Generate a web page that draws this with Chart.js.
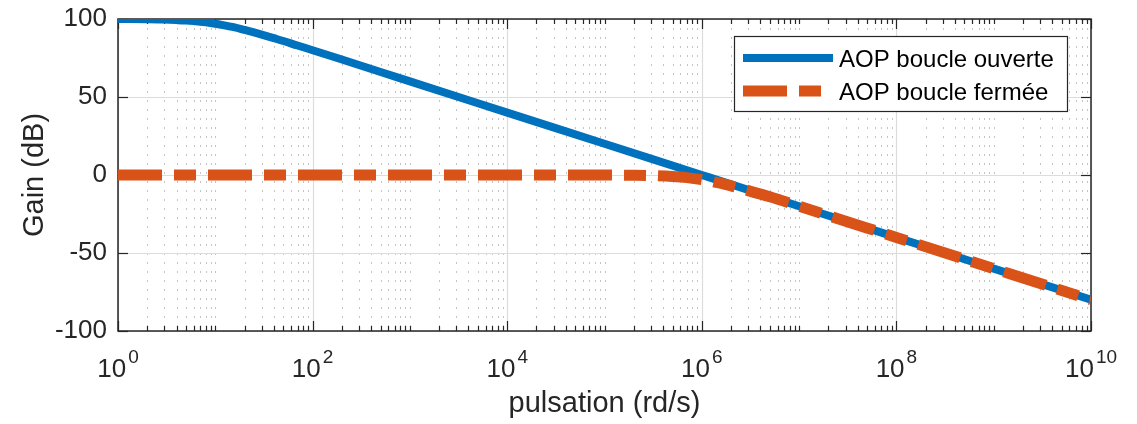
<!DOCTYPE html>
<html>
<head>
<meta charset="utf-8">
<script src="https://cdn.jsdelivr.net/npm/chart.js@4/dist/chart.umd.min.js"></script>
<style>
  html, body { margin: 0; background: #fff; }
</style>
</head>
<body>
<canvas id="bode" width="1137" height="424"></canvas>
<script>
// DATA
const pulsationOpen = [1, 2, 3, 4, 5, 7, 8, 10, 12, 15, 20, 25, 30, 40, 50, 70, 100, 200, 500, 1e3, 1e4, 1e5, 1e6, 1e7, 1e8, 1e9, 1e10];
const gainOpen      = [100, 99.8, 99.6, 99.3, 99.0, 98.3, 97.9, 97.0, 96.1, 94.9, 93.0, 91.4, 90.0, 87.7, 85.9, 83.0, 80.0, 74.0, 66.0, 60, 40, 20, 0, -20, -40, -60, -80];

const pulsationClosed = [1, 10, 100, 1e3, 1e4, 1e5, 2e5, 3e5, 5e5, 7e5, 1e6, 1.5e6, 2e6, 3e6, 5e6, 1e7, 1e8, 1e9, 1e10];
const gainClosed      = [0, 0, 0, 0, 0, -0.05, -0.2, -0.4, -1.0, -1.7, -3.0, -5.1, -7.0, -10.0, -14.0, -20, -40, -60, -80];

const xTickPowers = [0, 2, 4, 6, 8, 10];
const yTicks = [-100, -50, 0, 50, 100];

const FONT = '"Liberation Sans", Arial, Helvetica, sans-serif';
const AXIS = '#262626';

function toPoints(xs, ys) {
  return xs.map((v, i) => ({ x: v, y: ys[i] }));
}

function isLabelled(v) {
  const p = Math.log10(v);
  return Math.abs(p - Math.round(p)) < 1e-9 && xTickPowers.includes(Math.round(p));
}

// every k*10^n between the axis limits, for minor grid and ticks
function decadeValues(minPow, maxPow) {
  const out = [];
  for (let p = minPow; p < maxPow; p++)
    for (let k = 1; k < 10; k++) out.push(k * Math.pow(10, p));
  out.push(Math.pow(10, maxPow));
  return out;
}

function seg(ctx, x1, y1, x2, y2) {
  ctx.beginPath();
  ctx.moveTo(x1, y1);
  ctx.lineTo(x2, y2);
  ctx.stroke();
}

// MATLAB-like grid, box and inward ticks
const matlabAxes = {
  id: 'matlabAxes',
  beforeDatasetsDraw(chart) {
    const { ctx, chartArea: a, scales: { x, y } } = chart;
    const xVals = decadeValues(xTickPowers[0], xTickPowers[xTickPowers.length - 1]);
    ctx.save();

    // minor grid, dotted
    ctx.lineWidth = 1;
    ctx.strokeStyle = '#c4c4c4';
    ctx.setLineDash([2, 7]);
    xVals.forEach(v => {
      if (isLabelled(v)) return;
      const px = Math.round(x.getPixelForValue(v)) + 0.5;
      seg(ctx, px, a.top, px, a.bottom);
    });

    // major grid
    ctx.setLineDash([]);
    ctx.strokeStyle = '#dcdcdc';
    ctx.lineWidth = 1.2;
    xTickPowers.forEach(p => {
      const px = Math.round(x.getPixelForValue(Math.pow(10, p))) + 0.5;
      seg(ctx, px, a.top, px, a.bottom);
    });
    yTicks.forEach(v => {
      const py = Math.round(y.getPixelForValue(v)) + 0.5;
      seg(ctx, a.left, py, a.right, py);
    });

    // box
    ctx.strokeStyle = AXIS;
    ctx.lineWidth = 1.5;
    ctx.strokeRect(a.left, a.top, a.right - a.left, a.bottom - a.top);

    // ticks pointing inward
    ctx.lineWidth = 1.2;
    xVals.forEach(v => {
      const len = isLabelled(v) ? 10 : 5;
      const px = Math.round(x.getPixelForValue(v)) + 0.5;
      seg(ctx, px, a.bottom, px, a.bottom - len);
      seg(ctx, px, a.top, px, a.top + len);
    });
    yTicks.forEach(v => {
      const py = Math.round(y.getPixelForValue(v)) + 0.5;
      seg(ctx, a.left, py, a.left + 10, py);
      seg(ctx, a.right, py, a.right - 10, py);
    });
    ctx.restore();
  },
  afterDraw(chart) {
    const { ctx, scales: { x } } = chart;
    ctx.save();

    // x tick labels 10^n
    ctx.fillStyle = AXIS;
    ctx.textBaseline = 'alphabetic';
    ctx.textAlign = 'left';
    xTickPowers.forEach(p => {
      const px = x.getPixelForValue(Math.pow(10, p));
      ctx.font = '26px ' + FONT;
      const wb = ctx.measureText('10').width;
      ctx.font = '19px ' + FONT;
      const we = ctx.measureText(String(p)).width;
      const left = px - (wb + 2 + we) / 2;
      ctx.font = '26px ' + FONT;
      ctx.fillText('10', left, 377);
      ctx.font = '19px ' + FONT;
      ctx.fillText(String(p), left + wb + 2, 363);
    });

    // legend, top right inside the axes
    const box = { l: 734, t: 36, r: 1067, b: 111 };
    ctx.fillStyle = '#fff';
    ctx.fillRect(box.l, box.t, box.r - box.l, box.b - box.t);
    ctx.strokeStyle = AXIS;
    ctx.lineWidth = 1.2;
    ctx.strokeRect(box.l + 0.5, box.t + 0.5, box.r - box.l, box.b - box.t);

    const rows = [58, 91];
    chart.data.datasets.forEach((ds, i) => {
      const yy = rows[i];
      ctx.strokeStyle = ds.borderColor;
      ctx.lineWidth = ds.borderWidth;
      ctx.lineCap = 'butt';
      ctx.setLineDash(ds.borderDash || []);
      seg(ctx, 743, yy, 833, yy);
      ctx.setLineDash([]);
      ctx.fillStyle = '#000';
      ctx.font = '24px ' + FONT;
      ctx.fillText(ds.label, 839, yy + 8.5);
    });
    ctx.restore();
  }
};

new Chart(document.getElementById('bode'), {
  type: 'line',
  data: {
    datasets: [
      {
        label: 'AOP boucle ouverte',
        data: toPoints(pulsationOpen, gainOpen),
        borderColor: '#0072BD',
        borderWidth: 8,
        borderCapStyle: 'butt',
        pointRadius: 0,
        cubicInterpolationMode: 'monotone',
        order: 2
      },
      {
        label: 'AOP boucle fermée',
        data: toPoints(pulsationClosed, gainClosed),
        borderColor: '#D95319',
        borderWidth: 11,
        borderDash: [44, 12, 22, 12],
        borderCapStyle: 'butt',
        pointRadius: 0,
        cubicInterpolationMode: 'monotone',
        order: 1
      }
    ]
  },
  options: {
    responsive: false,
    animation: false,
    layout: { padding: { top: 19, right: 46, left: 0, bottom: 0 } },
    plugins: {
      legend: { display: false },
      tooltip: { enabled: false }
    },
    scales: {
      x: {
        type: 'logarithmic',
        min: 1,
        max: 1e10,
        grid: { display: false },
        border: { display: false },
        ticks: { display: false },
        title: {
          display: true,
          text: 'pulsation (rd/s)',
          color: AXIS,
          font: { family: FONT, size: 29 },
          padding: { top: 0, bottom: 3 }
        },
        afterFit: s => { s.height = 93; s.paddingLeft = 0; s.paddingRight = 0; }
      },
      y: {
        min: -100,
        max: 100,
        afterBuildTicks: s => { s.ticks = yTicks.map(v => ({ value: v })); },
        grid: { display: false, drawTicks: false },
        border: { display: false },
        ticks: {
          color: AXIS,
          padding: 11,
          font: { family: FONT, size: 26 }
        },
        title: {
          display: true,
          text: 'Gain (dB)',
          color: AXIS,
          font: { family: FONT, size: 29 },
          padding: { top: 18, bottom: 0 }
        },
        afterFit: s => { s.width = 118; s.paddingTop = 0; s.paddingBottom = 0; }
      }
    }
  },
  plugins: [matlabAxes]
});
</script>
</body>
</html>
